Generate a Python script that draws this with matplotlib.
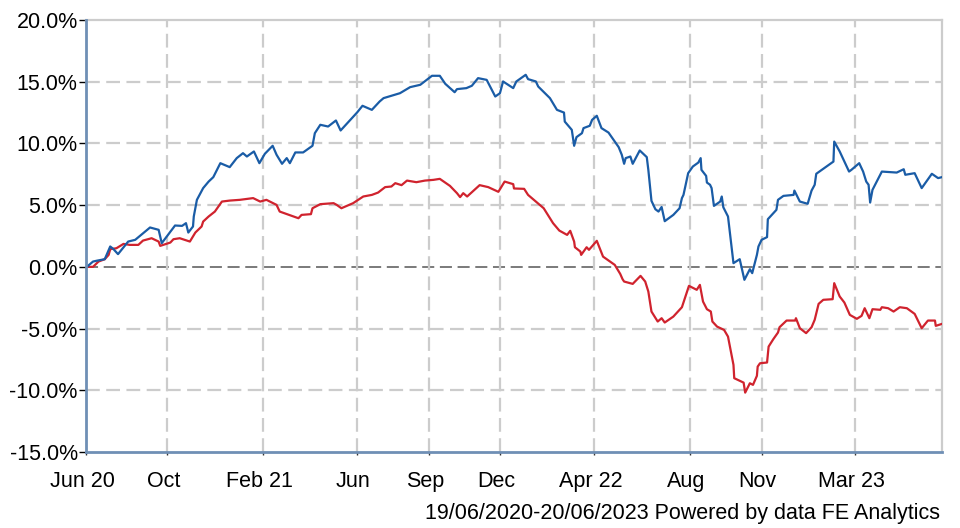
import datetime as dt
import matplotlib
matplotlib.use("Agg")
import matplotlib.pyplot as plt
import matplotlib.transforms as mtrans

plt.rcParams['font.family'] = ['Liberation Sans', 'DejaVu Sans']

START = dt.date(2020, 6, 19)
END = dt.date(2023, 6, 20)

# days since 19/06/2020 and cumulative performance (%)
blue_days = [0, 1, 9, 14, 24, 31, 35, 41, 54, 63, 82, 93, 97, 114, 123, 128, 131, 137, 138, 142,
             150, 157, 163, 172, 184, 193, 201, 206, 215, 222, 229, 239, 244, 251, 257, 261, 268,
             278, 290, 293, 300, 310, 320, 326, 347, 354, 366, 376, 381, 402, 415, 428, 443, 453,
             460, 472, 475, 487, 494, 502, 513, 524, 530, 534, 547, 551, 563, 566, 576, 579, 594,
             603, 612, 613, 622, 625, 628, 635, 637, 645, 648, 654, 660, 669, 682, 686, 689, 691,
             697, 700, 709, 718, 720, 724, 729, 733, 737, 741, 752, 760, 763, 765, 771, 777, 784,
             787, 788, 794, 795, 799, 801, 804, 812, 814, 816, 822, 829, 837, 843, 850, 853, 859,
             861, 865, 872, 873, 880, 884, 886, 893, 906, 907, 914, 924, 929, 933, 935, 948, 957,
             958, 965, 977, 980, 990, 995, 999, 1002, 1004, 1007, 1019, 1038, 1047, 1049, 1061,
             1070, 1083, 1091, 1096]
blue_vals = [0.0, 0.0, 0.43, 0.5, 0.62, 1.65, 1.45, 1.03, 2.05, 2.19, 3.19, 3.0, 1.92, 3.35, 3.32,
             3.54, 2.78, 3.27, 4.08, 5.43, 6.38, 6.91, 7.27, 8.40, 8.08, 8.81, 9.21, 8.94, 9.35,
             8.40, 9.16, 9.81, 9.08, 8.35, 8.81, 8.40, 9.27, 9.27, 9.81, 10.83, 11.51, 11.37, 11.86,
             11.05, 12.50, 13.05, 12.72, 13.40, 13.67, 14.07, 14.56, 14.75, 15.48, 15.48, 14.83,
             14.15, 14.40, 14.48, 14.67, 15.29, 15.15, 13.80, 14.07, 15.02, 14.48, 15.02, 15.56,
             15.21, 15.02, 14.61, 13.67, 12.72, 12.50, 11.77, 11.10, 9.81, 10.51, 10.83, 11.24,
             11.43, 11.91, 12.24, 11.24, 10.88, 9.70, 9.08, 8.35, 8.81, 8.94, 8.35, 9.43, 8.89,
             7.86, 5.35, 4.67, 4.48, 4.85, 3.70, 4.21, 4.75, 5.57, 5.83, 7.59, 8.13, 8.45, 8.81,
             7.86, 7.37, 6.83, 6.65, 6.38, 4.94, 5.29, 5.70, 4.83, 4.08, 0.30, 0.62, -1.05, -0.19,
             -0.51, 0.97, 1.65, 2.19, 2.41, 3.86, 4.35, 4.62, 5.43, 5.75, 5.83, 6.18, 5.29, 5.11,
             6.18, 6.65, 7.54, 8.13, 8.53, 10.15, 9.35, 7.72, 7.86, 8.40, 7.72, 6.91, 6.65, 5.21,
             6.24, 7.72, 7.64, 7.91, 7.46, 7.59, 6.38, 7.54, 7.19, 7.27]

red_days = [0, 1, 9, 16, 24, 29, 31, 39, 48, 56, 67, 73, 84, 93, 95, 108, 112, 120, 133, 140, 148,
            150, 157, 165, 174, 184, 197, 214, 223, 231, 244, 248, 272, 276, 288, 290, 300, 317,
            321, 327, 342, 355, 366, 374, 383, 391, 396, 404, 411, 423, 434, 445, 453, 466, 475,
            479, 483, 488, 504, 515, 528, 536, 547, 548, 561, 566, 586, 598, 606, 616, 620, 625,
            626, 633, 634, 641, 644, 654, 662, 677, 684, 687, 689, 700, 710, 716, 720, 724, 732,
            737, 741, 752, 763, 772, 782, 786, 790, 795, 800, 802, 808, 817, 822, 829, 830, 842,
            844, 850, 854, 859, 860, 863, 872, 874, 880, 886, 888, 897, 908, 909, 914, 922, 929,
            933, 938, 944, 956, 958, 965, 971, 976, 978, 987, 993, 997, 1003, 1007, 1017, 1019,
            1027, 1034, 1042, 1051, 1061, 1070, 1078, 1087, 1088, 1096]
red_vals = [0.0, 0.0, 0.0, 0.43, 0.62, 0.97, 1.43, 1.51, 1.86, 1.78, 1.78, 2.13, 2.32, 2.05, 1.70,
            1.97, 2.24, 2.32, 2.05, 2.78, 3.27, 3.67, 4.08, 4.48, 5.29, 5.37, 5.43, 5.57, 5.29,
            5.43, 5.02, 4.48, 3.94, 4.21, 4.27, 4.75, 5.08, 5.16, 5.02, 4.75, 5.16, 5.70, 5.83,
            6.02, 6.46, 6.51, 6.78, 6.62, 6.99, 6.86, 6.99, 7.05, 7.13, 6.56, 5.97, 5.65, 5.97,
            5.70, 6.62, 6.46, 6.08, 6.91, 6.70, 6.35, 6.32, 5.83, 4.75, 3.54, 2.94, 2.59, 2.92,
            2.05, 1.59, 1.24, 0.97, 1.59, 1.38, 2.11, 0.83, 0.16, -0.57, -1.0, -1.19, -1.38, -0.73,
            -1.19, -2.0, -3.62, -4.43, -4.16, -4.51, -4.03, -3.27, -1.54, -1.86, -1.46, -2.81,
            -3.43, -3.62, -4.43, -4.84, -5.11, -5.65, -7.94, -9.02, -9.38, -10.19, -9.43, -9.56,
            -8.83, -8.08, -7.81, -7.75, -6.46, -5.86, -5.32, -4.89, -4.35, -4.35, -4.16, -4.97,
            -5.37, -4.89, -4.29, -3.0, -2.67, -2.62, -1.32, -2.40, -2.89, -3.62, -3.89, -4.21,
            -3.97, -3.35, -4.16, -3.43, -3.48, -3.27, -3.35, -3.62, -3.27, -3.35, -3.81, -4.97,
            -4.35, -4.35, -4.78, -4.62]

tick_dates = ["2020-06-19", "2020-10-01", "2021-02-01", "2021-06-01", "2021-09-01",
              "2021-12-01", "2022-04-01", "2022-08-01", "2022-11-01", "2023-03-01"]
tick_labels = ["Jun 20", "Oct", "Feb 21", "Jun", "Sep", "Dec", "Apr 22", "Aug", "Nov", "Mar 23"]
y_ticks = [-15, -10, -5, 0, 5, 10, 15, 20]
footer = "19/06/2020-20/06/2023 Powered by data FE Analytics"

BLUE = "#1a5ca6"
RED = "#d0232e"
GRID = "#cccccc"

fig = plt.figure(figsize=(9.6, 5.28), dpi=100)
ax = fig.add_axes([86 / 960, 1 - 452 / 528, (942 - 86) / 960, (452 - 20) / 528])

bd = [START + dt.timedelta(days=d) for d in blue_days]
rd = [START + dt.timedelta(days=d) for d in red_days]

# grid
dash = (0, (6.2, 2.9))
for y in y_ticks:
    if y == 0:
        ax.axhline(y, color="#7a7a7a", lw=1.4, ls=dash, zorder=1)
    elif -15 < y < 20:
        ax.axhline(y, color=GRID, lw=1.6, ls=dash, zorder=1)
tdates = [dt.date.fromisoformat(s) for s in tick_dates]
for d in tdates[1:]:
    ax.axvline(d, color=GRID, lw=1.6, ls=dash, zorder=1)

ax.plot(rd, red_vals, color=RED, lw=1.6, zorder=3)
ax.plot(bd, blue_vals, color=BLUE, lw=1.6, zorder=4)

ax.set_xlim(START, END)
ax.set_ylim(-15, 20)

ax.set_yticks(y_ticks)
ax.set_yticklabels([f"{v:.1f}%" for v in y_ticks])
ax.set_xticks(tdates)
ax.set_xticklabels(tick_labels)

ax.tick_params(axis="y", length=5, width=1, color="black", pad=1, labelsize=15.5, direction="out")
ax.tick_params(axis="x", length=2, width=1, color="#333333", pad=12, labelsize=15.5)

offset = mtrans.ScaledTranslation(-4 / 100, 0, fig.dpi_scale_trans)
for lab in ax.get_xticklabels():
    lab.set_transform(lab.get_transform() + offset)

ax.spines["top"].set_color(GRID)
ax.spines["top"].set_linewidth(1.6)
ax.spines["left"].set_color("#6f8fb5")
ax.spines["left"].set_linewidth(2)
ax.spines["left"].set_zorder(5)
ax.spines["bottom"].set_color("#6f8fb5")
ax.spines["bottom"].set_linewidth(2)
ax.spines["bottom"].set_zorder(5)
ax.spines["right"].set_color(GRID)
ax.spines["right"].set_linewidth(1.6)

fig.text(940 / 960, 1 - 513 / 528, footer, ha="right", va="center", fontsize=15.5)

fig.savefig("out.png", dpi=100)
